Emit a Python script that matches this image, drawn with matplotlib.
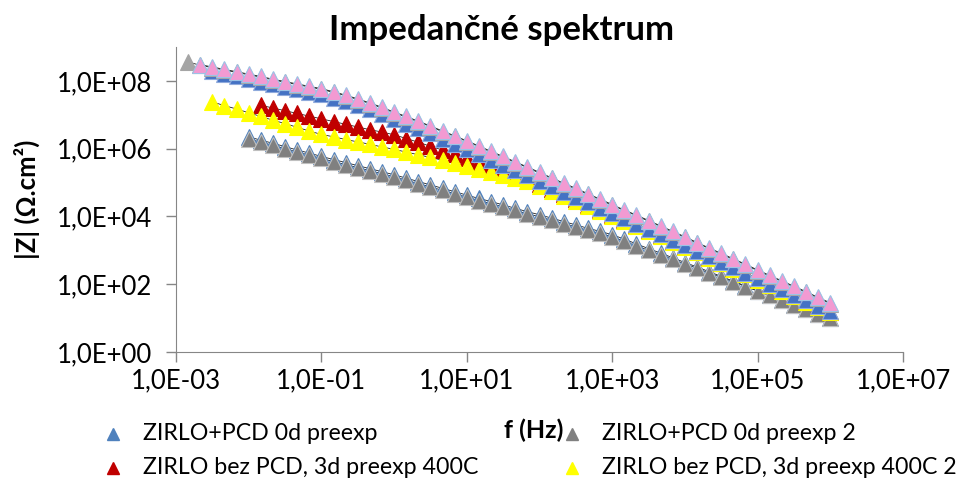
import numpy as np
import matplotlib
matplotlib.use("Agg")
import matplotlib.pyplot as plt
from matplotlib.lines import Line2D
from matplotlib.ticker import FixedLocator, FuncFormatter, NullLocator

plt.rcParams['font.family'] = ['Lato', 'DejaVu Sans']

# measured frequencies (Hz), 6 points per decade
freq_hz = [1.468e-3, 2.154e-3, 3.162e-3, 4.642e-3, 6.813e-3,
           1e-2, 1.468e-2, 2.154e-2, 3.162e-2, 4.642e-2, 6.813e-2,
           1e-1, 1.468e-1, 2.154e-1, 3.162e-1, 4.642e-1, 6.813e-1,
           1e0, 1.468, 2.154, 3.162, 4.642, 6.813,
           1e1, 14.68, 21.54, 31.62, 46.42, 68.13,
           1e2, 146.8, 215.4, 316.2, 464.2, 681.3,
           1e3, 1468, 2154, 3162, 4642, 6813,
           1e4, 14680, 21540, 31620, 46420, 68130,
           1e5, 146800, 215400, 316200, 464200, 681300,
           1e6]

# log10 |Z| (Ohm.cm2), series start at index given below
log_z_pcd0 = [6.35, 6.25, 6.16, 6.06, 5.96, 5.87, 5.77, 5.68, 5.59, 5.50, 5.41, 5.32,
              5.23, 5.13, 5.03, 4.93, 4.83, 4.73, 4.63, 4.53, 4.44, 4.34, 4.24, 4.14,
              4.05, 3.95, 3.85, 3.75, 3.65, 3.56, 3.46, 3.33, 3.19, 3.05, 2.92, 2.78,
              2.64, 2.51, 2.37, 2.23, 2.09, 1.95, 1.81, 1.67, 1.53, 1.40, 1.27, 1.13, 1.00]
log_z_pcd0_2 = [6.29, 6.19, 6.10, 6.00, 5.90, 5.81, 5.71, 5.62, 5.53, 5.44, 5.35, 5.26,
                5.17, 5.07, 4.97, 4.87, 4.77, 4.67, 4.57, 4.47, 4.38, 4.28, 4.18, 4.08,
                3.99, 3.89, 3.79, 3.69, 3.59, 3.50, 3.40, 3.27, 3.13, 3.00, 2.87, 2.73,
                2.60, 2.47, 2.33, 2.20, 2.07, 1.93, 1.80, 1.67, 1.53, 1.40, 1.27, 1.13, 1.00]
log_z_bez3 = [7.28, 7.20, 7.12, 7.04, 6.96, 6.88, 6.80, 6.72, 6.64, 6.56, 6.49, 6.41,
              6.30, 6.19, 6.07, 5.96, 5.84, 5.73, 5.61, 5.49, 5.36, 5.24, 5.12, 4.97,
              4.81, 4.66, 4.51, 4.35, 4.20, 4.05, 3.90, 3.75, 3.60, 3.45, 3.29, 3.13,
              2.97, 2.80, 2.64, 2.48, 2.32, 2.16, 2.00, 1.84, 1.68, 1.51, 1.35, 1.19]
log_z_bez3_2 = [7.38, 7.27, 7.17, 7.06, 6.95, 6.84, 6.74, 6.63, 6.52, 6.42, 6.35, 6.27,
                6.20, 6.13, 6.05, 5.98, 5.90, 5.82, 5.74, 5.66, 5.58, 5.50, 5.41, 5.32,
                5.23, 5.14, 5.05, 4.90, 4.75, 4.61, 4.46, 4.31, 4.16, 4.01, 3.87, 3.72,
                3.57, 3.42, 3.26, 3.10, 2.94, 2.78, 2.62, 2.46, 2.30, 2.13, 1.97, 1.81,
                1.65, 1.49, 1.33, 1.17]
log_z_s5 = [8.28, 8.21, 8.13, 8.06, 7.98, 7.90, 7.82, 7.75, 7.67, 7.60, 7.50, 7.40,
            7.28, 7.16, 7.02, 6.88, 6.74, 6.60, 6.45, 6.30, 6.15, 5.99, 5.84, 5.68,
            5.53, 5.37, 5.22, 5.05, 4.89, 4.73, 4.58, 4.42, 4.26, 4.10, 3.94, 3.79,
            3.63, 3.47, 3.31, 3.15, 2.98, 2.82, 2.66, 2.50, 2.34, 2.17, 2.01, 1.85,
            1.69, 1.53, 1.36, 1.20]
log_z_s6 = [8.56, 8.46, 8.39, 8.32, 8.25, 8.18, 8.11, 8.03, 7.96, 7.89, 7.82, 7.75,
            7.66, 7.56, 7.45, 7.33, 7.20, 7.06, 6.93, 6.79, 6.65, 6.50, 6.36, 6.21,
            6.06, 5.90, 5.75, 5.59, 5.44, 5.28, 5.12, 4.96, 4.81, 4.65, 4.49, 4.33,
            4.17, 4.02, 3.86, 3.70, 3.54, 3.38, 3.21, 3.05, 2.89, 2.73, 2.57, 2.40,
            2.24, 2.08, 1.92, 1.76, 1.59, 1.43]
log_z_s7 = [8.48, 8.41, 8.34, 8.27, 8.20, 8.13, 8.05, 7.98, 7.91, 7.84, 7.77, 7.68,
            7.58, 7.47, 7.35, 7.22, 7.08, 6.95, 6.81, 6.67, 6.52, 6.38, 6.23, 6.08,
            5.92, 5.77, 5.61, 5.46, 5.30, 5.14, 4.98, 4.83, 4.67, 4.51, 4.35, 4.19,
            4.04, 3.88, 3.72, 3.56, 3.40, 3.23, 3.07, 2.91, 2.75, 2.59, 2.42, 2.26,
            2.10, 1.94, 1.78, 1.61, 1.45]

labels = ["ZIRLO+PCD 0d preexp", "ZIRLO+PCD 0d preexp 2",
          "ZIRLO bez PCD, 3d preexp 400C", "ZIRLO bez PCD, 3d preexp 400C 2",
          "serie 5", "serie 6", "serie 7"]
start_idx = [5, 5, 6, 2, 2, 0, 1]
colors = ["#4F81BD", "#808080", "#C00000", "#FFFF00", "#4472C4", "#A5A5A5", "#F29AD2"]
edges = ["#4F81BD", "#BFBFBF", "#C00000", "#FFFF00", "#8FAADC", "#A5A5A5", "#9DC3E6"]
series = [log_z_pcd0, log_z_pcd0_2, log_z_bez3, log_z_bez3_2, log_z_s5, log_z_s6, log_z_s7]

fig = plt.figure(figsize=(9.62, 4.84), dpi=100)
ax = fig.add_axes([176 / 962, 1 - 352 / 484, (903 - 176) / 962, (352 - 47) / 484])

for i, vals in enumerate(series):
    f = np.array(freq_hz[start_idx[i]:start_idx[i] + len(vals)])
    z = 10 ** np.array(vals)
    ax.plot(f, z, color="#222222", lw=0.6, zorder=1)
    ax.plot(f, z, ls="none", marker="^", ms=11.5, mfc=colors[i], mec=edges[i],
            mew=0.8, zorder=2 + i)

ax.set_xscale("log")
ax.set_yscale("log")
ax.set_xlim(1e-3, 1e7)
ax.set_ylim(1e0, 1e9)

def sci_comma(v, pos):
    e = int(round(np.log10(v)))
    return "1,0E%+03d" % e

ax.xaxis.set_major_locator(FixedLocator([1e-3, 1e-1, 1e1, 1e3, 1e5, 1e7]))
ax.yaxis.set_major_locator(FixedLocator([1e0, 1e2, 1e4, 1e6, 1e8]))
ax.xaxis.set_minor_locator(NullLocator())
ax.yaxis.set_minor_locator(NullLocator())
ax.xaxis.set_major_formatter(FuncFormatter(sci_comma))
ax.yaxis.set_major_formatter(FuncFormatter(sci_comma))
ax.tick_params(direction="out", length=7, width=1, color="#868686",
               labelsize=18.5, labelcolor="black", pad=5)
ax.tick_params(axis="y", pad=10)
for s in ["top", "right"]:
    ax.spines[s].set_visible(False)
for s in ["left", "bottom"]:
    ax.spines[s].set_color("#868686")
ax.patch.set_alpha(0)

fig.text(502 / 962, 1 - 30 / 484, "Impedančné spektrum", ha="center", va="center",
         fontsize=25, fontweight="bold")
fig.text(27 / 962, 1 - 199 / 484, "|Z| (Ω.cm²)", ha="center", va="center",
         rotation=90, fontsize=18.5, fontweight="bold")
fig.text(534 / 962, 1 - 430 / 484, "f (Hz)", ha="center", va="center",
         fontsize=18, fontweight="bold")

# legend (only the first four entries fit, as in the original)
leg_pos = [(113, 434), (572, 434), (113, 468), (572, 468)]
for i, (lx, ly) in enumerate(leg_pos):
    fig.add_artist(Line2D([lx / 962], [1 - ly / 484], transform=fig.transFigure,
                          ls="none", marker="^", ms=9, mfc=colors[i], mec=colors[i]))
    fig.text((lx + 30) / 962, 1 - ly / 484, labels[i], ha="left", va="center",
             fontsize=16.7)

fig.savefig("out.png", dpi=100)
